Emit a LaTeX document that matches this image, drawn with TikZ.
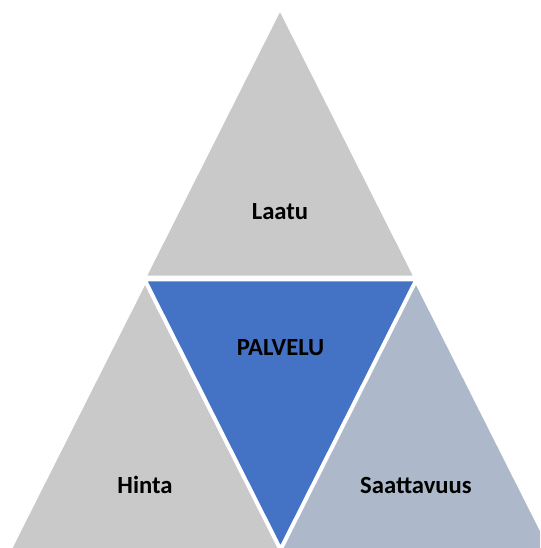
\documentclass[tikz,border=0pt]{standalone}
\usepackage{fontspec}
\setmainfont{Carlito}
\usepackage{xcolor}
\usepackage{tikz}
\definecolor{tri gray}{HTML}{C9C9C9}
\definecolor{tri blue}{HTML}{4472C4}
\definecolor{tri slate}{HTML}{ADB9CA}
\tikzset{
lbl/.style = { black, draw = none, fill = none, font = \fontsize{18.5}{21}\selectfont\bfseries },
}
\tikzset{
pics/up tri/.style args={#1, #2, #3}{
        code = {
        \path[draw = white, line width = 2pt, fill = #3] (0, 0) -- (135, 268) -- (-135, 268) -- cycle;
        \node[lbl] (#1) at (0, 203) {#2};
        }
    },
pics/down tri/.style args={#1, #2, #3}{
        code = {
        \path[draw = white, line width = 2pt, fill = #3] (-135, 0) -- (135, 0) -- (0, 268) -- cycle;
        \node[lbl] (#1) at (0, 68) {#2};
        }
    }
}
\begin{document}
\begin{tikzpicture}[x = 0.75pt, y = -0.75pt]
      \useasboundingbox (0, 0) rectangle (540, 548);
      \begin{scope}
      \clip (0, 0) rectangle (540, 548);
      \draw (280, 9) pic{up tri = {laatu, Laatu, tri gray}};
      \draw (145, 282) pic{up tri = {hinta, Hinta, tri gray}};
      \draw (416, 282) pic{up tri = {saatto, Saattavuus, tri slate}};
      \draw (280.5, 280) pic{down tri = {palvelu, PALVELU, tri blue}};
      \end{scope}
    \end{tikzpicture}
\end{document}
